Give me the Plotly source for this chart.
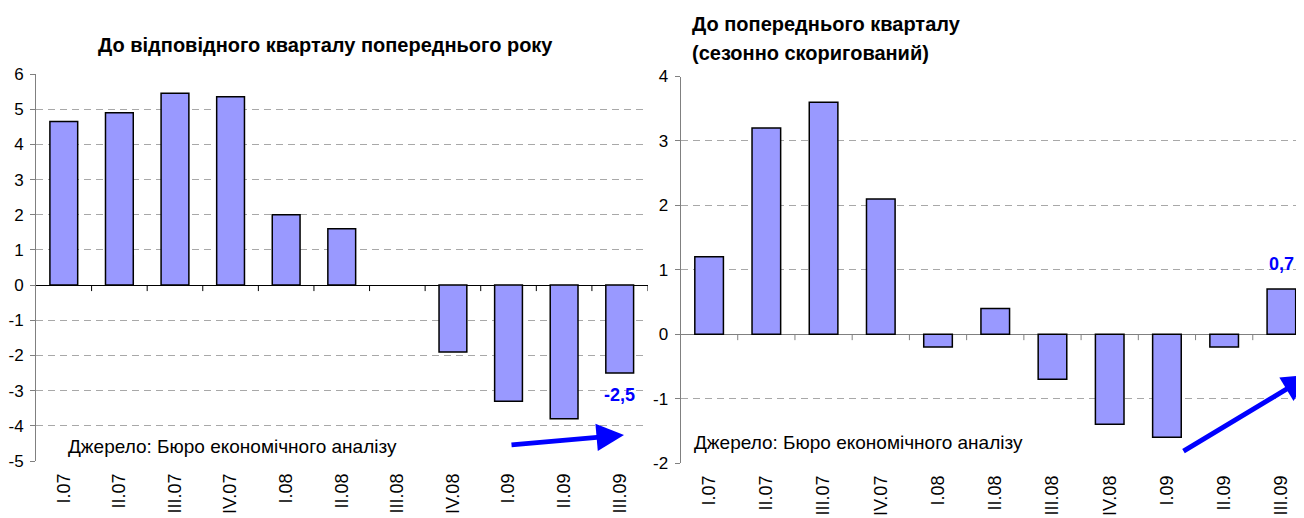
import plotly.graph_objects as go

# ---------------- data ----------------
quarters = ["I.07", "II.07", "III.07", "IV.07", "I.08", "II.08", "III.08",
            "IV.08", "I.09", "II.09", "III.09"]
yoy_values = [4.65, 4.9, 5.45, 5.35, 2.0, 1.6, None, -1.9, -3.3, -3.8, -2.5]
qoq_values = [1.2, 3.2, 3.6, 2.1, -0.2, 0.4, -0.7, -1.4, -1.6, -0.2, 0.7]

left_title = "До відповідного кварталу попереднього року"
right_title_1 = "До попереднього кварталу"
right_title_2 = "(сезонно скоригований)"
source_text = "Джерело: Бюро економічного аналізу"
left_yticks = list(range(-5, 7))
right_yticks = list(range(-2, 5))

# ---------------- styling ----------------
W, H = 1304, 518
OFF = 8  # page body margin in the browser
FONT = "Liberation Sans, Arial, sans-serif"
BAR_FILL = "#9999FF"
BLUE = "#0000FF"
GRID = "#A8A8A8"


def px_x(p):
    return (p - OFF) / W


def px_y(p):
    return 1 - (p - OFF) / H


fig = go.Figure()

fig.add_trace(go.Bar(x=quarters, y=yoy_values, xaxis="x", yaxis="y", width=0.5,
                     marker=dict(color=BAR_FILL, line=dict(color="black", width=1.5)),
                     showlegend=False, hoverinfo="x+y"))
fig.add_trace(go.Bar(x=quarters, y=qoq_values, xaxis="x2", yaxis="y2", width=0.5,
                     marker=dict(color=BAR_FILL, line=dict(color="black", width=1.5)),
                     showlegend=False, hoverinfo="x+y"))

common_x = dict(type="category", categoryorder="array", categoryarray=quarters,
                showline=False, ticks="", showgrid=False, zeroline=False,
                tickangle=-90, tickfont=dict(family=FONT, size=18, color="black"),
                automargin=False, ticklabelstandoff=8)
common_y = dict(showline=True, linecolor="#808080", linewidth=1, ticks="outside",
                ticklen=5, tickcolor="#808080", showgrid=True, gridcolor=GRID,
                griddash="7px,5px", gridwidth=1, zeroline=True, zerolinewidth=1,
                tickfont=dict(family=FONT, size=17, color="black"), automargin=False,
                ticklabelstandoff=3)

fig.update_layout(
    width=W, height=H, autosize=False,
    margin=dict(l=0, r=0, t=0, b=0),
    paper_bgcolor="white", plot_bgcolor="white",
    bargap=0.5,
    xaxis=dict(common_x, domain=[px_x(36), px_x(647.5)], range=[-0.5, 10.5], anchor="y"),
    yaxis=dict(common_y, domain=[px_y(461), px_y(74)], range=[-5, 6],
               tickvals=left_yticks, ticktext=[str(v) for v in left_yticks],
               zerolinecolor="black", anchor="x"),
    xaxis2=dict(common_x, domain=[px_x(680.5), px_x(1310)], range=[-0.5, 10.5],
                anchor="y2"),
    yaxis2=dict(common_y, domain=[px_y(463), px_y(76.5)], range=[-2, 4],
                tickvals=right_yticks, ticktext=[str(v) for v in right_yticks],
                zerolinecolor="#808080", anchor="x2"),
)

# tick marks on the zero line at category boundaries
shapes = []
for xref, yref, color in (("x", "y", "black"), ("x2", "y2", "#808080")):
    for i in range(len(quarters)):
        shapes.append(dict(type="line", xref=xref, yref=yref, x0=i + 0.5, x1=i + 0.5,
                           ysizemode="pixel", yanchor=0, y0=0, y1=-6,
                           line=dict(color=color, width=1)))
fig.update_layout(shapes=shapes)

annotations = []
# titles
annotations.append(dict(text="<b>" + left_title + "</b>", xref="paper", yref="paper",
                        x=px_x(325), y=px_y(45), xanchor="center", yanchor="middle",
                        showarrow=False, font=dict(family=FONT, size=20, color="black")))
annotations.append(dict(text="<b>" + right_title_1 + "</b>", xref="paper", yref="paper",
                        x=px_x(690), y=px_y(24), xanchor="left", yanchor="middle",
                        showarrow=False, font=dict(family=FONT, size=20, color="black")))
annotations.append(dict(text="<b>" + right_title_2 + "</b>", xref="paper", yref="paper",
                        x=px_x(690), y=px_y(53), xanchor="left", yanchor="middle",
                        showarrow=False, font=dict(family=FONT, size=20, color="black")))
# source notes
annotations.append(dict(text=source_text, xref="paper", yref="paper",
                        x=px_x(66), y=px_y(446), xanchor="left", yanchor="middle",
                        showarrow=False, font=dict(family=FONT, size=19, color="black")))
annotations.append(dict(text=source_text, xref="paper", yref="paper",
                        x=px_x(692), y=px_y(442), xanchor="left", yanchor="middle",
                        showarrow=False, font=dict(family=FONT, size=19, color="black")))


def fmt(v):
    return f"{v:.1f}".replace(".", ",")


# value labels for the last quarter
annotations.append(dict(text="<b>" + fmt(yoy_values[-1]) + "</b>", xref="x", yref="y",
                        x=quarters[-1], y=yoy_values[-1], xanchor="center", yanchor="top",
                        yshift=-10, showarrow=False,
                        font=dict(family=FONT, size=18, color=BLUE)))
annotations.append(dict(text="<b>" + fmt(qoq_values[-1]) + "</b>", xref="x2", yref="y2",
                        x=quarters[-1], y=qoq_values[-1], xanchor="center", yanchor="bottom",
                        yshift=13, showarrow=False,
                        font=dict(family=FONT, size=18, color=BLUE)))

# trend arrows
annotations.append(dict(text="", xref="paper", yref="paper", x=px_x(624), y=px_y(435),
                        ax=-114, ay=10, axref="pixel", ayref="pixel", showarrow=True,
                        arrowhead=2, arrowsize=1.1, arrowwidth=5, arrowcolor=BLUE))
annotations.append(dict(text="", xref="paper", yref="paper", x=px_x(1310), y=px_y(375),
                        ax=-128, ay=77, axref="pixel", ayref="pixel", showarrow=True,
                        arrowhead=2, arrowsize=1.1, arrowwidth=5, arrowcolor=BLUE))

fig.update_layout(annotations=annotations)

fig.write_html("out.html")
